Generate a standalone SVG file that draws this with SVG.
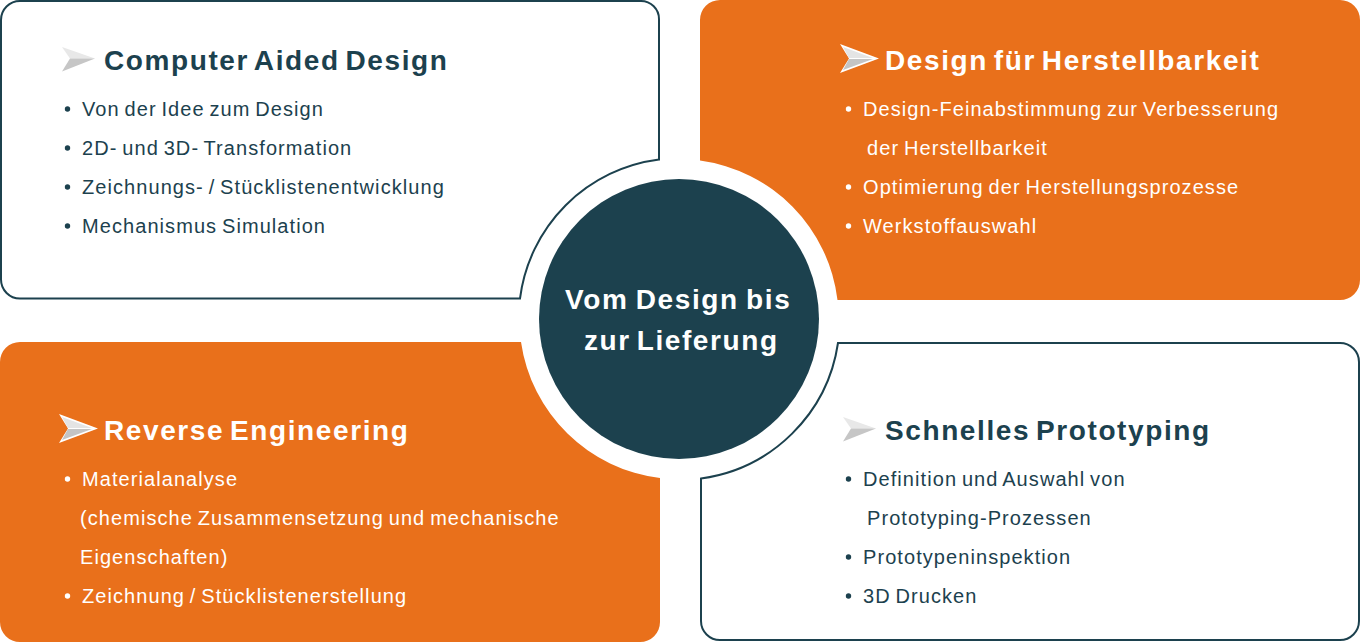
<svg xmlns="http://www.w3.org/2000/svg" width="1360" height="642" viewBox="0 0 1360 642">
<style>
text{font-family:"Liberation Sans",Arial,sans-serif}
.t{font-size:28px;font-weight:700;letter-spacing:1.6px;word-spacing:-3.5px}
.b{font-size:20px;letter-spacing:1.07px;word-spacing:-1.8px}
.c1{word-spacing:-2px}
.d{fill:#1c414e}.w{fill:#fff}
.o{fill:#e9701b}
.l{fill:#fff;stroke:#1c414e;stroke-width:2}
</style>
<defs>
<g id="arrow">
<path d="M0 0L33 11.500L8 11.500Z" fill="#e8e8e8"/>
<path d="M0 24.500L33 11.500L8 11.500Z" fill="#c6c6c6"/>
</g>
<g id="arrowW">
<path d="M0 0L39 14.500L0 29L9 14.500Z" fill="#fff"/>
<path d="M3 3L33 14L9 14Z" fill="#e4e4e4"/>
<path d="M3 26L33 15L9 15Z" fill="#c4c4c4"/>
</g>
</defs>
<rect width="1360" height="642" fill="#fff"/>
<g id="node-cad">
<path class="l" d="M20 1H641A18 18 0 0 1 659 19V159.500A160.500 160.500 0 0 0 520 298.500H20A19 19 0 0 1 1 279.500V20A19 19 0 0 1 20 1Z"/>
<use href="#arrow" x="62" y="47"/>
<text class="t d" x="104" y="70">Computer Aided Design</text>
<g class="d">
<circle cx="67.500" cy="109" r="2.700"/><circle cx="67.500" cy="148" r="2.700"/><circle cx="67.500" cy="187" r="2.700"/><circle cx="67.500" cy="226" r="2.700"/>
<text class="b" x="82" y="116">Von der Idee zum Design</text>
<text class="b" x="82" y="155">2D- und 3D- Transformation</text>
<text class="b" x="82" y="194">Zeichnungs- / Stücklistenentwicklung</text>
<text class="b" x="82" y="233">Mechanismus Simulation</text>
</g>
</g>
<g id="node-dfm">
<path class="o" d="M720 0H1340A20 20 0 0 1 1360 20V280A20 20 0 0 1 1340 300H837.500A160 160 0 0 0 700 160.500V20A20 20 0 0 1 720 0Z"/>
<use href="#arrowW" x="840" y="44"/>
<text class="t w" x="885" y="70">Design für Herstellbarkeit</text>
<g class="w">
<circle cx="848.500" cy="109" r="2.700"/><circle cx="848.500" cy="187" r="2.700"/><circle cx="848.500" cy="226" r="2.700"/>
<text class="b" x="863" y="116">Design-Feinabstimmung zur Verbesserung</text>
<text class="b" x="867" y="155">der Herstellbarkeit</text>
<text class="b" x="863" y="194">Optimierung der Herstellungsprozesse</text>
<text class="b" x="863" y="233">Werkstoffauswahl</text>
</g>
</g>
<g id="node-re">
<path class="o" d="M20 342H521A160 160 0 0 0 660 478V622A20 20 0 0 1 640 642H20A20 20 0 0 1 0 622V362A20 20 0 0 1 20 342Z"/>
<use href="#arrowW" x="59" y="414"/>
<text class="t w" x="104" y="440">Reverse Engineering</text>
<g class="w">
<circle cx="67.500" cy="479" r="2.700"/><circle cx="67.500" cy="596" r="2.700"/>
<text class="b" x="82" y="486">Materialanalyse</text>
<text class="b" x="80" y="525">(chemische Zusammensetzung und mechanische</text>
<text class="b" x="80" y="564">Eigenschaften)</text>
<text class="b" x="82" y="603">Zeichnung / Stücklistenerstellung</text>
</g>
</g>
<g id="node-rp">
<path class="l" d="M838 343H1340A19 19 0 0 1 1359 362V621A19 19 0 0 1 1340 640H720A19 19 0 0 1 701 621V478.500A160.500 160.500 0 0 0 838 343Z"/>
<use href="#arrow" x="843" y="417"/>
<text class="t d" x="885" y="440">Schnelles Prototyping</text>
<g class="d">
<circle cx="848.500" cy="479" r="2.700"/><circle cx="848.500" cy="557" r="2.700"/><circle cx="848.500" cy="596" r="2.700"/>
<text class="b" x="863" y="486">Definition und Auswahl von</text>
<text class="b" x="867" y="525">Prototyping-Prozessen</text>
<text class="b" x="863" y="564">Prototypeninspektion</text>
<text class="b" x="863" y="603">3D Drucken</text>
</g>
</g>
<g id="node-center">
<circle class="d" cx="679" cy="319" r="140"/>
<text class="t w c1" x="565" y="309">Vom Design bis</text>
<text class="t w" x="584" y="350">zur Lieferung</text>
</g>
<g id="connectors"/>
</svg>
